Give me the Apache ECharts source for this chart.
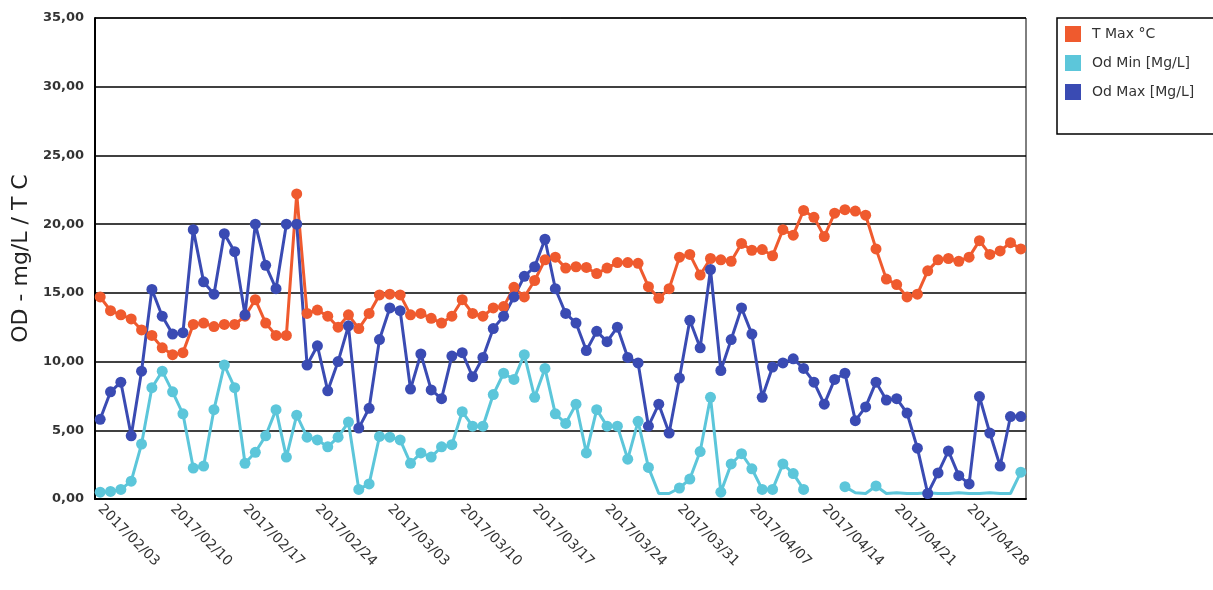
<!DOCTYPE html>
<html lang="fr">
<head>
<meta charset="UTF-8">
<title>OD - mg/L / T C</title>
<script src="https://cdn.jsdelivr.net/npm/echarts@6/dist/echarts.min.js"></script>
<style>
    body{ margin:0; background:#fff; }
    #chart{ width:1213px; height:590px; }
</style>
</head>
<body>
<div id="chart"></div>
<script type="text/javascript">
    // one reading per day, 2017/02/03 .. 2017/05/03
    var dates = [
        '2017/02/03','2017/02/04','2017/02/05','2017/02/06','2017/02/07','2017/02/08','2017/02/09',
        '2017/02/10','2017/02/11','2017/02/12','2017/02/13','2017/02/14','2017/02/15','2017/02/16',
        '2017/02/17','2017/02/18','2017/02/19','2017/02/20','2017/02/21','2017/02/22','2017/02/23',
        '2017/02/24','2017/02/25','2017/02/26','2017/02/27','2017/02/28','2017/03/01','2017/03/02',
        '2017/03/03','2017/03/04','2017/03/05','2017/03/06','2017/03/07','2017/03/08','2017/03/09',
        '2017/03/10','2017/03/11','2017/03/12','2017/03/13','2017/03/14','2017/03/15','2017/03/16',
        '2017/03/17','2017/03/18','2017/03/19','2017/03/20','2017/03/21','2017/03/22','2017/03/23',
        '2017/03/24','2017/03/25','2017/03/26','2017/03/27','2017/03/28','2017/03/29','2017/03/30',
        '2017/03/31','2017/04/01','2017/04/02','2017/04/03','2017/04/04','2017/04/05','2017/04/06',
        '2017/04/07','2017/04/08','2017/04/09','2017/04/10','2017/04/11','2017/04/12','2017/04/13',
        '2017/04/14','2017/04/15','2017/04/16','2017/04/17','2017/04/18','2017/04/19','2017/04/20',
        '2017/04/21','2017/04/22','2017/04/23','2017/04/24','2017/04/25','2017/04/26','2017/04/27',
        '2017/04/28','2017/04/29','2017/04/30','2017/05/01','2017/05/02','2017/05/03'
    ];

    var tMax = [
        14.7, 13.7, 13.4, 13.1, 12.3, 11.9, 11.0, 10.5, 10.65, 12.7,
        12.8, 12.55, 12.7, 12.7, 13.3, 14.5, 12.8, 11.9, 11.9, 22.2,
        13.5, 13.75, 13.3, 12.5, 13.4, 12.4, 13.5, 14.85, 14.9, 14.85,
        13.4, 13.5, 13.15, 12.8, 13.3, 14.5, 13.5, 13.3, 13.9, 14.0,
        15.4, 14.7, 15.9, 17.4, 17.6, 16.8, 16.9, 16.85, 16.4, 16.8,
        17.2, 17.2, 17.15, 15.45, 14.6, 15.3, 17.6, 17.8, 16.3, 17.5,
        17.4, 17.3, 18.6, 18.1, 18.15, 17.7, 19.6, 19.2, 21.0, 20.5,
        19.1, 20.8, 21.05, 20.95, 20.65, 18.2, 16.0, 15.6, 14.7, 14.9,
        16.6, 17.4, 17.5, 17.3, 17.6, 18.8, 17.8, 18.05, 18.65, 18.2
    ];

    var odMin = [
        0.5, 0.55, 0.7, 1.3, 4.0, 8.1, 9.3, 7.8, 6.2, 2.25,
        2.4, 6.5, 9.75, 8.1, 2.6, 3.4, 4.6, 6.5, 3.05, 6.1,
        4.5, 4.3, 3.8, 4.5, 5.6, 0.7, 1.1, 4.55, 4.5, 4.3,
        2.6, 3.35, 3.05, 3.8, 3.95, 6.35, 5.3, 5.3, 7.6, 9.15,
        8.7, 10.5, 7.4, 9.5, 6.2, 5.5, 6.9, 3.35, 6.5, 5.3,
        5.3, 2.9, 5.65, 2.3, 0.4, 0.4, 0.8, 1.45, 3.45, 7.4,
        0.5, 2.55, 3.3, 2.2, 0.7, 0.7, 2.55, 1.85, 0.7, null,
        null, null, 0.9, 0.45, 0.4, 0.95, 0.4, 0.45, 0.4, 0.4,
        0.45, 0.4, 0.4, 0.45, 0.4, 0.4, 0.45, 0.4, 0.4, 1.95
    ];

    var odMax = [
        5.8, 7.8, 8.5, 4.6, 9.3, 15.25, 13.3, 12.0, 12.1, 19.6,
        15.8, 14.9, 19.3, 18.0, 13.4, 20.0, 17.0, 15.3, 20.0, 20.0,
        9.75, 11.15, 7.87, 10.0, 12.6, 5.16, 6.6, 11.6, 13.9, 13.7,
        8.0, 10.55, 7.94, 7.3, 10.4, 10.65, 8.9, 10.3, 12.4, 13.3,
        14.7, 16.2, 16.9, 18.9, 15.3, 13.5, 12.8, 10.8, 12.2, 11.45,
        12.5, 10.3, 9.9, 5.3, 6.9, 4.8, 8.8, 13.0, 11.0, 16.7,
        9.35, 11.6, 13.9, 12.0, 7.4, 9.6, 9.9, 10.2, 9.5, 8.5,
        6.9, 8.7, 9.15, 5.7, 6.7, 8.5, 7.2, 7.3, 6.25, 3.7,
        0.4, 1.9, 3.5, 1.7, 1.1, 7.45, 4.8, 2.4, 6.0, 6.0
    ];

    var seriesNames = ['T Max °C', 'Od Min [Mg/L]', 'Od Max [Mg/L]'];
    var colors = ['#ef5a2e', '#5cc6da', '#3a4bb3'];

    var option = {
        animation: false,
        backgroundColor: '#fff',
        color: colors,
        textStyle: { fontFamily: 'DejaVu Sans' },
        grid: {
            left: 95, top: 18, right: 187, bottom: 91,
            show: true, borderColor: '#000', borderWidth: 1, backgroundColor: '#fff'
        },
        legend: {
            orient: 'vertical',
            left: 1057, top: 18,
            icon: 'rect',
            itemWidth: 16, itemHeight: 16, itemGap: 13,
            padding: [8, 80, 34, 8],
            borderColor: '#000', borderWidth: 1.5,
            textStyle: { fontSize: 14, color: '#333', padding: [0, 0, 0, 6] },
            data: seriesNames
        },
        xAxis: {
            type: 'category',
            data: dates,
            boundaryGap: true,
            axisLine: { lineStyle: { color: '#000', width: 2 } },
            axisTick: { show: false },
            axisLabel: {
                interval: 6, rotate: -45, margin: 8,
                fontSize: 14, color: '#333'
            },
            splitLine: { show: false }
        },
        yAxis: {
            type: 'value',
            min: 0, max: 35, interval: 5,
            name: 'OD - mg/L / T C',
            nameLocation: 'middle',
            nameGap: 60,
            nameTextStyle: { fontSize: 22, color: '#222' },
            axisLine: { show: true, lineStyle: { color: '#000', width: 2 } },
            axisTick: { show: false },
            axisLabel: {
                fontSize: 13, fontWeight: 'bold', color: '#333', margin: 11,
                formatter: function (v) { return v.toFixed(2).replace('.', ','); }
            },
            splitLine: { lineStyle: { color: '#000', width: 1.6 } }
        },
        series: [{
            name: seriesNames[0],
            type: 'line',
            data: tMax,
            showAllSymbol: true,
            symbol: 'circle', symbolSize: 11,
            lineStyle: { width: 3 }
        }, {
            name: seriesNames[1],
            type: 'line',
            data: odMin,
            showAllSymbol: true,
            symbol: 'circle',
            symbolSize: function (v) { return v < 0.5 ? 0 : 11; },
            lineStyle: { width: 3 }
        }, {
            name: seriesNames[2],
            type: 'line',
            data: odMax,
            showAllSymbol: true,
            symbol: 'circle', symbolSize: 11,
            lineStyle: { width: 3 }
        }]
    };

    var chart = echarts.init(document.getElementById('chart'));
    chart.setOption(option);
</script>
</body>
</html>
